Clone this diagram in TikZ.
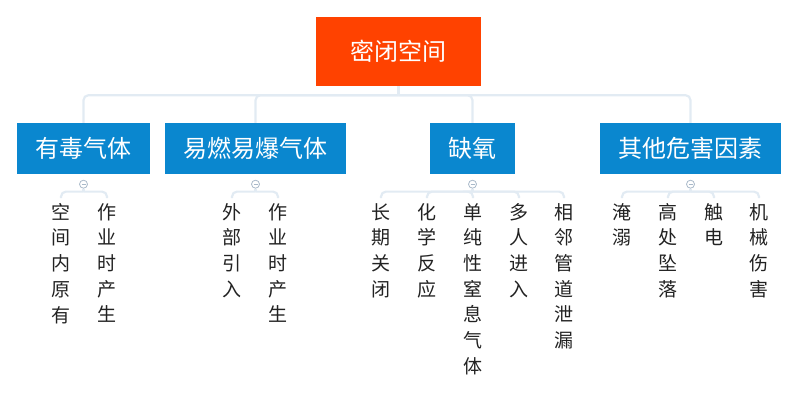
\documentclass[tikz,border=0pt]{standalone}
\usepackage{fontspec}
\setmainfont{Noto Sans CJK SC}
\usetikzlibrary{positioning}

\definecolor{rootred}{HTML}{FF4200}
\definecolor{topicblue}{HTML}{0A87CF}
\definecolor{linkgrey}{HTML}{E2EBF3}
\definecolor{foldgrey}{HTML}{A9B9C9}
\definecolor{leafink}{HTML}{222222}

\tikzset{
  rootbox/.style={rectangle, fill=rootred, text=white, minimum width=165pt,
    minimum height=69pt, font=\fontsize{24}{24}\selectfont},
  topicbox/.style={rectangle, fill=topicblue, text=white, minimum height=51pt,
    font=\fontsize{24}{24}\selectfont},
  leaf/.style={anchor=north, align=center, inner sep=0pt, text=leafink,
    font=\fontsize{19}{25.7}\selectfont},
  fold/.style={circle, draw=foldgrey, fill=white, line width=0.8pt,
    minimum size=8pt, inner sep=0pt, text=foldgrey},
  link/.style={draw=linkgrey, line width=2.2pt, rounded corners=5pt}
}

\begin{document}
\begin{tikzpicture}[x=1pt, y=-1pt]
\useasboundingbox (0,0) rectangle (799,401);

% root and topics
\node[rootbox] (root) at (398.5, 51.5) {密闭空间};
\node[topicbox, minimum width=133pt] (tox) at (83.5, 148.5) {有毒气体};
\node[topicbox, minimum width=181pt] (fire) at (255.5, 148.5) {易燃易爆气体};
\node[topicbox, minimum width=85pt] (oxy) at (472.5, 148.5) {缺氧};
\node[topicbox, minimum width=181pt] (other) at (690.5, 148.5) {其他危害因素};

% leaves
\node[leaf] (tox1) at (61, 203) {空\\间\\内\\原\\有};
\node[leaf] (tox2) at (107, 203) {作\\业\\时\\产\\生};
\node[leaf] (fire1) at (232, 203) {外\\部\\引\\入};
\node[leaf] (fire2) at (278, 203) {作\\业\\时\\产\\生};
\node[leaf] (oxy1) at (381, 203) {长\\期\\关\\闭};
\node[leaf] (oxy2) at (427, 203) {化\\学\\反\\应};
\node[leaf] (oxy3) at (473, 203) {单\\纯\\性\\窒\\息\\气\\体};
\node[leaf] (oxy4) at (519, 203) {多\\人\\进\\入};
\node[leaf] (oxy5) at (564, 203) {相\\邻\\管\\道\\泄\\漏};
\node[leaf] (other1) at (622, 203) {淹\\溺};
\node[leaf] (other2) at (668, 203) {高\\处\\坠\\落};
\node[leaf] (other3) at (714, 203) {触\\电};
\node[leaf] (other4) at (759, 203) {机\\械\\伤\\害};

% connectors
\draw[link] (root.south) -- ++(0,9) coordinate (rootbus);
\foreach \t in {tox, fire, oxy, other}
  \draw[link] (rootbus) -| (\t.north);

\foreach \t/\n in {tox/2, fire/2, oxy/5, other/4} {
  \node[fold] (\t fold) at ([yshift=-10pt]\t.south) {\rule{4pt}{0.7pt}};
  \draw[link] (\t fold.south) -- ++(0,3) coordinate (\t bus);
  \foreach \i in {1,...,\n}
    \draw[link] (\t bus) -| ([yshift=5pt]\t\i.north);
}

\end{tikzpicture}
\end{document}
